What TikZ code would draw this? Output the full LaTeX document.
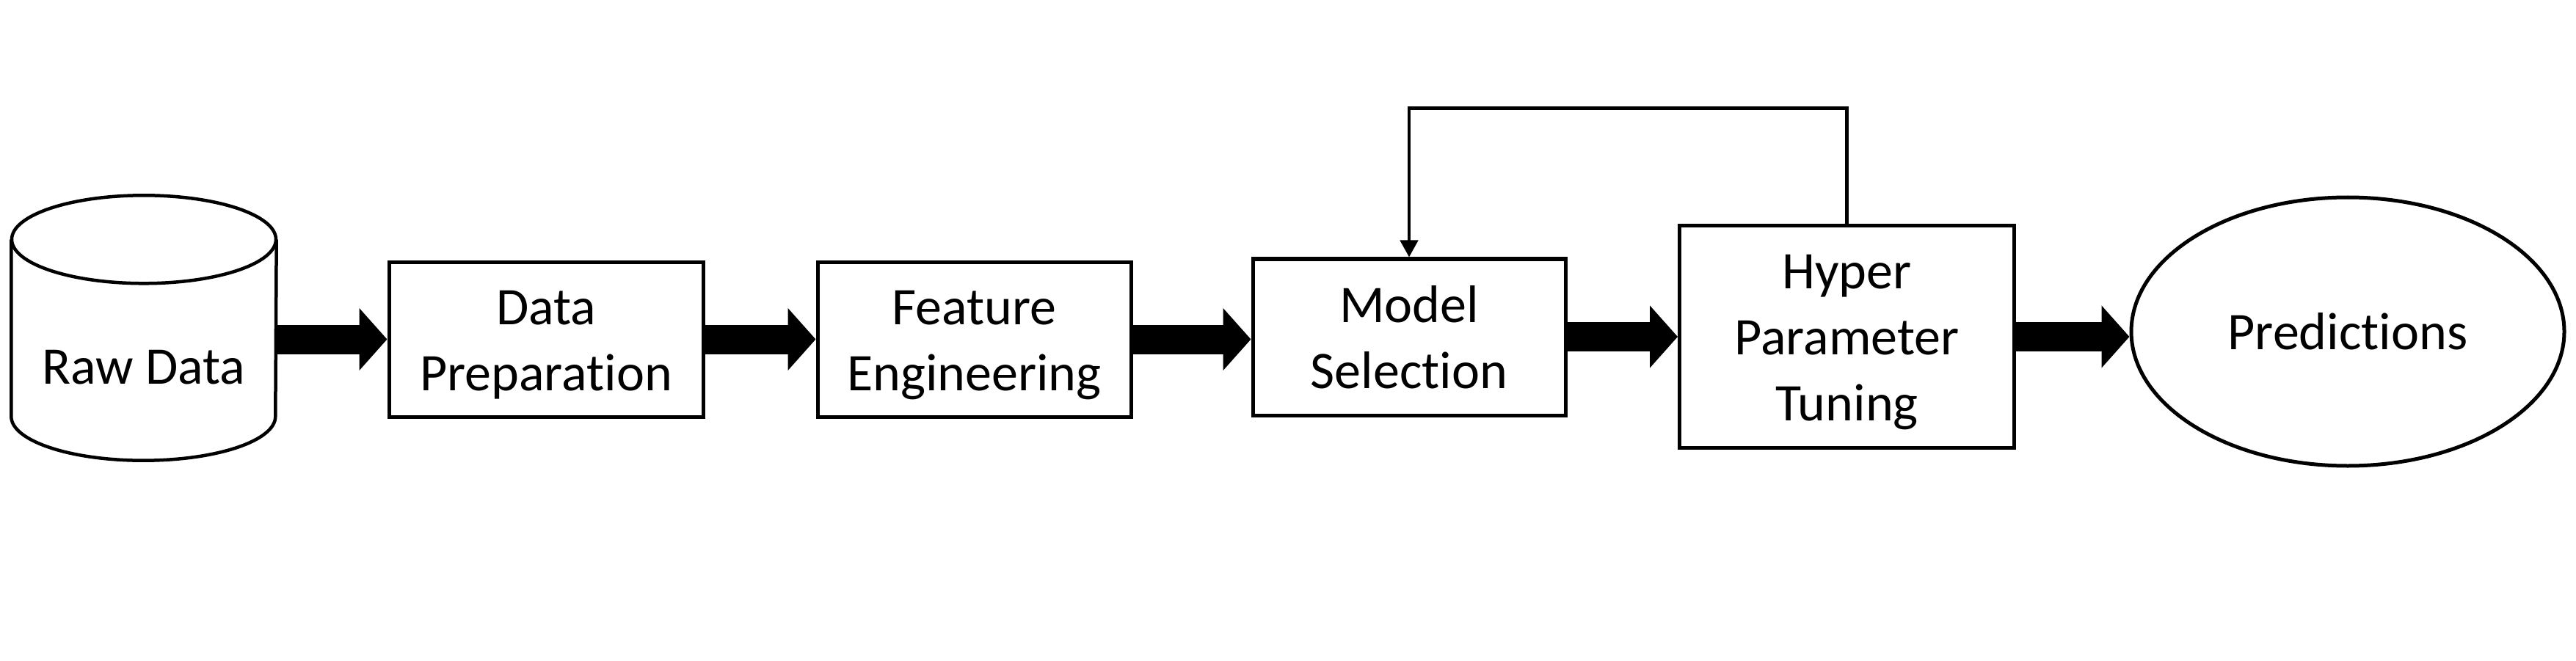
\documentclass[tikz,border=0pt]{standalone}
\usepackage{fontspec}
\setmainfont{Carlito}[Ligatures={NoCommon,NoRare,NoContextual}]
\usetikzlibrary{arrows.meta,shapes.geometric,calc}
\newcommand\mystrut{\rule[-0.2cm]{0pt}{0.89cm}}
\begin{document}
\begin{tikzpicture}[
  outl/.style={draw=black, line width=0.05cm},
  procbox/.style={outl, rectangle, inner sep=0pt, align=center,
    font=\fontsize{20.5pt}{0.9cm}\selectfont},
  txt/.style={inner sep=0pt, font=\fontsize{20.5pt}{0.9cm}\selectfont},
  bigarrow/.style={line width=0.4cm, -{Triangle[length=0.38cm, width=0.83cm]}},
  fbarrow/.style={line width=0.045cm, -{Triangle[length=0.23cm, width=0.24cm]}}
]
\useasboundingbox (0,0) rectangle (35.1,9);
% Raw data cylinder
\node[minimum width=3.6cm, minimum height=3.6cm, inner sep=0pt] (raw) at (1.96,4.53) {};
\draw[line width=0.045cm] ($(raw.north west)+(0,-0.6)$) -- ($(raw.south west)+(0,0.6)$)
  arc[start angle=180, end angle=360, x radius=1.8cm, y radius=0.6cm]
  -- ($(raw.north east)+(0,-0.6)$);
\draw[line width=0.045cm] ($(raw.north)+(0,-0.6)$) ellipse [x radius=1.8cm, y radius=0.6cm];
\node[txt, anchor=base] (rawlabel) at ($(raw.center)+(0,-0.76)$) {Raw Data};
% Process boxes
\node[procbox, minimum width=4.28cm, minimum height=2.11cm] (dp) at (7.44,4.375)
  {\mystrut Data\\\mystrut Preparation};
\node[procbox, minimum width=4.27cm, minimum height=2.11cm] (fe) at (13.275,4.375)
  {\mystrut Feature\\\mystrut Engineering};
\node[procbox, minimum width=4.26cm, minimum height=2.13cm] (ms) at (19.20,4.405)
  {\mystrut Model\\\mystrut Selection};
\node[procbox, minimum width=4.56cm, minimum height=3.02cm] (hp) at (25.165,4.41)
  {\mystrut Hyper\\\mystrut Parameter\\\mystrut Tuning};
\node[outl, ellipse, inner sep=0pt, minimum width=5.9cm, minimum height=3.66cm,
  font=\fontsize{20.5pt}{0.9cm}\selectfont] (pred) at (31.99,4.48) {\mystrut Predictions};
% Thick arrows
\draw[bigarrow] (raw.east |- dp.west) -- (dp.west);
\draw[bigarrow] (dp.east) -- (fe.west);
\draw[bigarrow] (fe.east) -- (fe.east -| ms.west);
\draw[bigarrow] (ms.east |- hp.west) -- (hp.west);
\draw[bigarrow] (hp.east) -- (hp.east -| pred.west);
% Feedback loop
\coordinate (fbtop) at (0,7.525);
\draw[fbarrow] (hp.north) -- (hp.north |- fbtop) -| (ms.north);
\end{tikzpicture}
\end{document}
